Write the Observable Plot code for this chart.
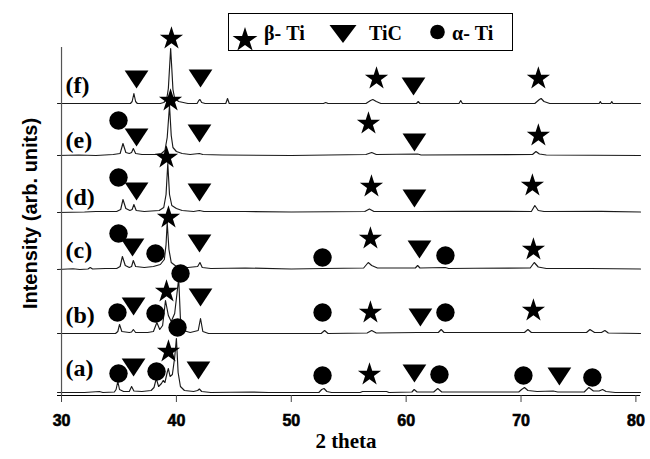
<!DOCTYPE html>
<html>
<head>
<meta charset="utf-8">
<script src="https://cdn.jsdelivr.net/npm/d3@7"></script>
<script src="https://cdn.jsdelivr.net/npm/@observablehq/plot@0.6"></script>
<style>
  html, body { margin: 0; padding: 0; background: #fff; }
  #chart { position: relative; width: 650px; height: 459px; }
</style>
</head>
<body>
<div id="chart"></div>
<script>
// ---- data (2θ in degrees, intensity in arbitrary units above each trace's baseline) ----
const xTicks = [30, 40, 50, 60, 70, 80];
const sampleNames = ["(a)", "(b)", "(c)", "(d)", "(e)", "(f)"];
const sampleOffsets = [3, 62, 126, 183, 240, 292];
const sampleLabelLevels = [27, 80, 145, 198, 255, 310];
const legendNames = ["β- Ti", "TiC", "α- Ti"];

const traceA = [[29.65,0],[32,0],[33.3,1],[33.6,0],[34.6,0.5],[34.75,3],[34.9,11],[35.05,3],[35.4,1],[35.9,1],[36.1,6],[36.3,1.5],[37.0,1],[37.8,2],[38.05,5],[38.25,14],[38.45,6],[38.7,9],[38.85,12],[39.0,10],[39.2,20],[39.3,24],[39.45,16],[39.65,18],[39.85,35],[40.0,54],[40.15,20],[40.35,6],[40.7,2],[41.5,1],[41.85,2],[42.0,3.5],[42.2,1],[43,0],[46.5,0.5],[48,0],[52.4,0],[52.65,3],[52.85,4],[53.1,1],[53.5,0],[56.0,0],[56.2,1],[58.3,1],[58.5,0],[60.5,0.5],[60.7,3],[60.95,0.5],[62.4,0.5],[62.75,4],[63.1,0.5],[69.8,0.5],[70.05,3],[70.3,5],[70.6,2],[71.4,1],[72.8,1.5],[73.2,0.5],[75.5,0.5],[75.9,5],[76.3,1.5],[76.8,1.5],[77.1,3],[77.4,1],[78.2,0],[80.4,0]];
const traceB = [[29.65,0],[34.7,0],[34.9,2],[35.05,9],[35.25,2],[35.9,1],[36.1,1.5],[36.25,4],[36.45,1],[37.5,1],[38.0,2],[38.3,11],[38.55,4],[38.8,8],[39.05,33],[39.3,18],[39.55,12],[39.85,20],[40.05,40],[40.2,55],[40.35,15],[40.6,3],[41.2,1],[41.9,3],[42.1,15],[42.3,2],[42.8,0],[52.6,0],[52.9,3],[53.2,0],[56.6,0.5],[57.0,3],[57.4,0.5],[61.0,1],[62.8,1],[63.05,4],[63.3,1],[70.3,1],[70.6,4],[70.9,1],[75.7,1],[76.0,4],[76.4,1],[77.0,1],[77.3,3],[77.6,0.5],[80.4,0]];
const traceC = [[29.65,0],[31.0,0.8],[31.6,0],[32.3,0.5],[32.5,2],[32.7,0.5],[33.8,1],[34.8,1],[35.1,3],[35.3,13],[35.55,4],[35.9,2],[36.1,3],[36.25,9],[36.45,3],[37.2,2],[38.0,3],[38.3,4],[38.6,5],[38.95,10],[39.1,25],[39.2,47],[39.35,20],[39.55,7],[40.0,3],[41.0,2],[41.85,3],[42.05,7],[42.25,2],[43,1],[46,1.5],[50,0.5],[52.8,1],[56.3,1.5],[56.7,7],[57.0,4],[57.5,1.5],[60.8,1.5],[61.0,4],[61.2,1.5],[63.4,2],[63.7,1],[66,1.2],[70.8,1.5],[71.15,7],[71.5,2.5],[72.2,1],[76,1],[80.4,0.5]];
const traceD = [[29.65,0],[32,0.5],[33,1],[34.8,1],[35.15,3],[35.35,13],[35.6,4],[35.95,2],[36.15,3],[36.3,8],[36.5,2],[37.2,1],[38.5,2],[38.9,5],[39.1,18],[39.25,49],[39.4,18],[39.6,7],[40.0,4],[40.5,2],[41.5,1],[42.0,2],[42.4,1],[46,1],[50,0.5],[56.4,1],[56.8,3.5],[57.2,1],[61.0,1],[65,1.2],[70.9,1],[71.2,7],[71.5,2],[72.0,1],[77,1.2],[80.4,0.5]];
const traceE = [[29.65,0],[31.5,0.5],[33,0],[34.5,1],[35.1,2],[35.35,12],[35.6,3],[35.9,2],[36.1,3],[36.25,7],[36.45,2],[37,1],[38.2,1],[38.7,2],[39.0,5],[39.2,18],[39.4,50],[39.55,20],[39.7,8],[40.0,4],[40.5,2],[41.2,1],[42.0,2],[42.3,1],[44,0.5],[50,0],[56.5,1],[57.0,3],[57.4,1],[61.0,1.5],[61.3,0.5],[71.0,1],[71.3,4],[71.6,1.5],[72.2,0.5],[80.4,0]];
const traceF = [[29.65,0],[36.0,0],[36.15,2],[36.3,10],[36.45,2],[36.6,0],[38.6,0],[38.9,1],[39.15,4],[39.3,15],[39.4,35],[39.5,55],[39.6,35],[39.7,14],[39.85,5],[40.2,2],[40.6,1],[41.0,0],[41.8,0],[41.95,3],[42.05,4],[42.2,1],[42.5,0],[44.3,0],[44.45,5],[44.6,0],[52.8,0],[53.0,1],[53.2,0],[56.5,0],[56.9,3],[57.1,4],[57.4,2],[57.8,0],[60.9,0],[61.05,2],[61.2,0],[64.6,0],[64.75,3],[64.9,0],[71.2,0],[71.6,4],[71.75,5],[72.0,2],[72.5,0],[76.8,0],[76.9,2],[77.0,0],[77.8,0],[77.9,2],[78.0,0],[80.4,0]];
const traces = [traceA, traceB, traceC, traceD, traceE, traceF];

// phase markers: [2θ, intensity level on the common axis]
const betaTiMarks = [[39.57,357],[57.42,317],[71.51,317],[39.49,295],[56.72,272],[71.51,260],[39.14,238],[56.98,209],[70.99,210],[39.31,178],[56.89,157],[71.08,146],[39.14,104],[56.89,83],[71.08,85],[39.31,44],[56.81,21]];
const ticMarks = [[36.53,316],[42.10,317],[60.64,309],[36.53,258],[42.01,262],[60.72,253],[36.53,204],[42.01,203],[60.72,197],[36.18,148],[42.01,152],[61.16,146],[36.27,89],[42.10,98],[61.24,78],[36.27,28],[41.92,25],[60.72,22],[73.34,19]];
const alphaTiMarks = [[34.96,275],[34.96,218],[34.96,162],[38.18,142],[52.72,138],[63.42,140],[40.36,122],[34.87,83],[38.18,82],[40.10,68],[52.72,83],[63.42,83],[34.96,22],[38.27,24],[52.72,20],[62.90,21],[70.21,20],[76.21,18]];

// ---- build ----
const lineRows = traces.flatMap((t, i) => t.map(([x, v]) => ({x, y: v + sampleOffsets[i], s: sampleNames[i]})));
const labelRows = sampleNames.map((n, i) => ({name: n, y: sampleLabelLevels[i]}));
const toRows = arr => arr.map(([x, y]) => ({x, y}));

const triangleDown = {
  draw(context, size) {
    const r = Math.sqrt(size / Math.PI);
    context.moveTo(-1.25 * r, -0.95 * r);
    context.lineTo(1.25 * r, -0.95 * r);
    context.lineTo(0, 0.95 * r);
    context.closePath();
  }
};

const serif = "'Liberation Serif', 'Times New Roman', serif";
const sans = "'Liberation Sans', Arial, sans-serif";
const narrow = "'Liberation Sans Narrow', 'Arial Narrow', 'Liberation Sans', sans-serif";

const chart = Plot.plot({
  width: 650,
  height: 459,
  marginLeft: 57,
  marginRight: 10,
  marginTop: 45,
  marginBottom: 64,
  x: {domain: [29.65, 80.4], label: null},
  y: {domain: [0, 350], axis: null},
  style: {background: "#fff", color: "#000"},
  marks: [
    Plot.line(lineRows, {x: "x", y: "y", z: "s", stroke: "#1a1a1a", strokeWidth: 1.15}),
    Plot.ruleY([0], {stroke: "#000", strokeWidth: 1.2}),
    Plot.ruleX([30], {y1: 0, y2: 348, stroke: "#555", strokeWidth: 1.2}),
    Plot.axisX(xTicks, {tickSize: 7, tickPadding: 12, fontSize: 16, fontWeight: "bold", fontFamily: narrow, stroke: "#444", label: null, tickFormat: d => String(d)}),
    Plot.dot(toRows(alphaTiMarks), {x: "x", y: "y", r: 9.2, fill: "#000", stroke: "none"}),
    Plot.dot(toRows(ticMarks), {x: "x", y: "y", r: 9.5, symbol: triangleDown, fill: "#000", stroke: "none"}),
    Plot.dot(toRows(betaTiMarks), {x: "x", y: "y", r: 7.3, symbol: "star", fill: "#000", stroke: "none"}),
    Plot.text(labelRows, {text: "name", y: "y", frameAnchor: "left", textAnchor: "start", dx: 8, fontSize: 24, fontWeight: "bold", fontFamily: serif, fill: "#000"}),
    Plot.text(["2 theta"], {frameAnchor: "bottom", dx: -3, dy: 52, fontSize: 21, fontWeight: "bold", fontFamily: serif, fill: "#000"}),
    Plot.text(["Intensity (arb. units)"], {frameAnchor: "left", textAnchor: "middle", rotate: -90, dx: -27, dy: -7, fontSize: 20, fontWeight: "bold", fontFamily: sans, fill: "#000"})
  ]
});
document.getElementById("chart").appendChild(chart);

// x tick labels: heavier strokes as in the reference
d3.select(chart).selectAll('g[aria-label^="x-axis tick label"] text')
  .style("font-weight", "bold").style("stroke", "#000").style("stroke-width", "0.6px");

// legend drawn into the same svg
const svg = d3.select(chart);
const lg = svg.append("g").attr("text-anchor", "start");
lg.append("rect").attr("x", 228.5).attr("y", 13.5).attr("width", 284).attr("height", 37)
  .attr("fill", "#fff").attr("stroke", "#000").attr("stroke-width", 1);
lg.append("path").attr("transform", "translate(245,40)")
  .attr("d", d3.symbol(d3.symbolStar, 7.8 * 7.8 * Math.PI)()).attr("fill", "#000");
lg.append("path").attr("transform", "translate(343,34)")
  .attr("d", d3.symbol({draw(c, s) { c.moveTo(-13.5, -9); c.lineTo(13.5, -9); c.lineTo(0, 9); c.closePath(); }}, 1)()).attr("fill", "#000");
lg.append("circle").attr("cx", 437.5).attr("cy", 32).attr("r", 7.3).attr("fill", "#000");
const legendX = [264, 369, 452];
legendNames.forEach((n, i) => {
  lg.append("text").attr("x", legendX[i]).attr("y", 40).text(n)
    .attr("text-anchor", "start")
    .attr("font-family", serif).attr("font-weight", "bold").attr("font-size", 20).attr("fill", "#000");
});
</script>
</body>
</html>
